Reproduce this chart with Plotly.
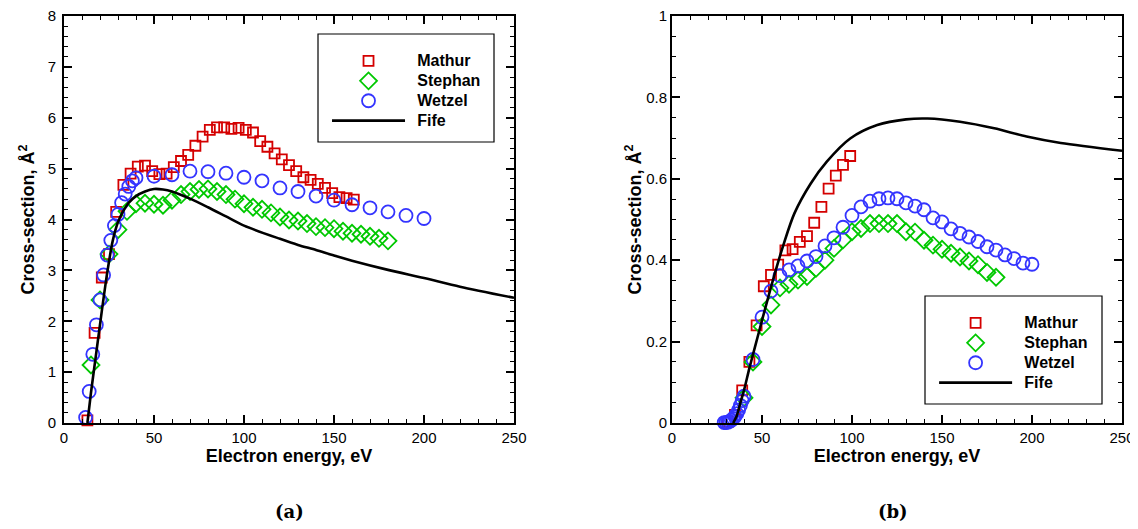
import plotly.graph_objects as go

# ---------------- data ----------------
# Panel (a)
mathur_a_x = [13, 17, 21, 25, 29, 33, 37, 41, 45, 49, 53, 57, 61, 65, 69, 73, 77, 81, 85,
              89, 93, 97, 101, 105, 109, 113, 117, 121, 125, 129, 133, 137, 141, 145, 149,
              153, 157, 161]
mathur_a_y = [0.05, 1.77, 2.86, 3.32, 4.15, 4.68, 4.9, 5.04, 5.06, 4.95, 4.89, 4.9, 5.03,
              5.15, 5.27, 5.45, 5.63, 5.76, 5.81, 5.81, 5.78, 5.8, 5.76, 5.71, 5.54, 5.43,
              5.3, 5.18, 5.07, 4.95, 4.83, 4.78, 4.7, 4.62, 4.52, 4.44, 4.42, 4.39]

stephan_a_x = [15, 20, 25, 30, 35, 40, 45, 50, 55, 60, 65, 70, 75, 80, 85, 90, 95, 100,
               105, 110, 115, 120, 125, 130, 135, 140, 145, 150, 155, 160, 165, 170, 175, 180]
stephan_a_y = [1.14, 2.42, 3.32, 3.8, 4.16, 4.31, 4.32, 4.3, 4.28, 4.38, 4.49, 4.55, 4.59,
               4.6, 4.55, 4.49, 4.4, 4.31, 4.24, 4.2, 4.13, 4.05, 3.99, 3.97, 3.92, 3.86,
               3.84, 3.82, 3.77, 3.73, 3.71, 3.67, 3.63, 3.58]

wetzel_a_x = [12, 14, 16, 18, 20, 22, 24, 26, 28, 30, 32, 34, 36, 38, 40, 50, 60, 70, 80,
              90, 100, 110, 120, 130, 140, 150, 160, 170, 180, 190, 200]
wetzel_a_y = [0.11, 0.62, 1.35, 1.93, 2.42, 2.91, 3.3, 3.59, 3.88, 4.1, 4.33, 4.5, 4.65,
              4.76, 4.82, 4.85, 4.88, 4.95, 4.94, 4.91, 4.83, 4.76, 4.62, 4.55, 4.46, 4.38,
              4.29, 4.23, 4.15, 4.08, 4.02]

fife_a_x = [13, 15, 18, 21, 24, 27, 30, 33, 36, 40, 45, 50, 55, 60, 70, 80, 90, 100, 120,
            130, 140, 150, 160, 180, 200, 220, 250]
fife_a_y = [0.0, 0.6, 1.4, 2.2, 2.95, 3.57, 3.95, 4.17, 4.33, 4.46, 4.55, 4.6, 4.59, 4.55,
            4.41, 4.24, 4.06, 3.88, 3.62, 3.5, 3.4, 3.29, 3.19, 3.01, 2.85, 2.68, 2.46]

# Panel (b)
mathur_b_x = [31, 35, 39, 43, 47, 51, 55, 59, 63, 67, 71, 75, 79, 83, 87, 91, 95, 99]
mathur_b_y = [0.003, 0.02, 0.08, 0.15, 0.24, 0.336, 0.364, 0.389, 0.424, 0.427, 0.445,
              0.459, 0.492, 0.531, 0.576, 0.608, 0.634, 0.656]

stephan_b_x = [40, 45, 50, 55, 60, 65, 70, 75, 80, 85, 90, 95, 100, 105, 110, 115, 120,
               125, 130, 135, 140, 145, 150, 155, 160, 165, 170, 175, 180]
stephan_b_y = [0.062, 0.15, 0.237, 0.29, 0.332, 0.341, 0.351, 0.36, 0.38, 0.4, 0.429, 0.45,
               0.47, 0.478, 0.49, 0.49, 0.49, 0.49, 0.47, 0.469, 0.449, 0.437, 0.427, 0.417,
               0.408, 0.398, 0.389, 0.37, 0.358]

wetzel_b_x = [29, 30, 31, 32, 33, 34, 35, 36, 37, 38, 39, 40, 45, 50, 55, 60, 65, 70, 75,
              80, 85, 90, 95, 100, 105, 110, 115, 120, 125, 130, 135, 140, 145, 150, 155,
              160, 165, 170, 175, 180, 185, 190, 195, 200]
wetzel_b_y = [0.001, 0.001, 0.002, 0.004, 0.007, 0.011, 0.016, 0.023, 0.032, 0.043, 0.055,
              0.066, 0.156, 0.26, 0.324, 0.362, 0.376, 0.386, 0.398, 0.409, 0.435, 0.455,
              0.481, 0.51, 0.531, 0.545, 0.551, 0.553, 0.551, 0.541, 0.533, 0.524, 0.504,
              0.494, 0.477, 0.466, 0.457, 0.446, 0.433, 0.425, 0.413, 0.404, 0.393, 0.39]

fife_b_x = [34, 36, 38, 40, 43, 46, 50, 56, 62, 68, 77, 86, 99, 114, 130, 142, 160, 179,
            197, 216, 250]
fife_b_y = [0.0, 0.018, 0.05, 0.08, 0.135, 0.185, 0.252, 0.35, 0.439, 0.515, 0.588, 0.642,
            0.699, 0.732, 0.746, 0.748, 0.74, 0.724, 0.704, 0.688, 0.669]

series_names = ["Mathur", "Stephan", "Wetzel", "Fife"]
x_title = "Electron energy, eV"
y_title = "Cross-section, Å<sup>2</sup>"
captions = ["(a)", "(b)"]

# ---------------- styling ----------------
RED = "#d40000"
GREEN = "#00c800"
BLUE = "#3434ff"
FONT = "Liberation Sans, Arial, Helvetica, sans-serif"

fig = go.Figure()


def legend_label(name):
    # larger visible text than the legend's base font (keeps rows compact)
    return "\u00a0\u00a0<span style='font-size:16px'><b>" + name + "</b></span>"


def add_panel(data, xa, ya, leg):
    (mx, my), (sx, sy), (wx, wy), (fx, fy) = data
    fig.add_trace(go.Scatter(x=mx, y=my, mode="markers", name=legend_label(series_names[0]),
                             xaxis=xa, yaxis=ya, legend=leg, cliponaxis=False,
                             marker=dict(symbol="square-open", size=10, color=RED,
                                         line=dict(width=1.8, color=RED))))
    fig.add_trace(go.Scatter(x=sx, y=sy, mode="markers", name=legend_label(series_names[1]),
                             xaxis=xa, yaxis=ya, legend=leg, cliponaxis=False,
                             marker=dict(symbol="diamond-open", size=13, color=GREEN,
                                         line=dict(width=1.8, color=GREEN))))
    fig.add_trace(go.Scatter(x=wx, y=wy, mode="markers", name=legend_label(series_names[2]),
                             xaxis=xa, yaxis=ya, legend=leg, cliponaxis=False,
                             marker=dict(symbol="circle-open", size=13, color=BLUE,
                                         line=dict(width=1.8, color=BLUE))))
    fig.add_trace(go.Scatter(x=fx, y=fy, mode="lines", name=legend_label(series_names[3]),
                             xaxis=xa, yaxis=ya, legend=leg,
                             line=dict(color="black", width=2.6, shape="spline",
                                       smoothing=0.8)))


add_panel([(mathur_a_x, mathur_a_y), (stephan_a_x, stephan_a_y),
           (wetzel_a_x, wetzel_a_y), (fife_a_x, fife_a_y)], "x", "y", "legend")
add_panel([(mathur_b_x, mathur_b_y), (stephan_b_x, stephan_b_y),
           (wetzel_b_x, wetzel_b_y), (fife_b_x, fife_b_y)], "x2", "y2", "legend2")

axis_common = dict(
    showgrid=False, zeroline=False, showline=True, linecolor="black", linewidth=2,
    mirror="allticks", ticks="inside", ticklen=8, tickwidth=2, tickcolor="black",
    tickfont=dict(family=FONT, size=15, color="black"),
    automargin=False, ticklabeloverflow="allow",
)

x_common = dict(axis_common, range=[0, 250], dtick=50, tick0=0,
                minor=dict(dtick=10, ticklen=4, tickwidth=1, tickcolor="black",
                           ticks="inside"),
                title=dict(text="<b>" + x_title + "</b>", standoff=0,
                           font=dict(family=FONT, size=18, color="black")))

LEGEND_FONT = dict(family=FONT, size=13, color="black")

fig.update_layout(
    width=1130, height=521,
    margin=dict(l=56, r=16, t=8, b=106),
    paper_bgcolor="white", plot_bgcolor="white",
    showlegend=True,
    xaxis=dict(x_common, domain=[0, 0.42533], anchor="y"),
    yaxis=dict(axis_common, domain=[0, 1], anchor="x", range=[0, 8], dtick=1, tick0=0,
               ticklabelstandoff=3,
               minor=dict(dtick=0.2, ticklen=4, tickwidth=1, tickcolor="black",
                          ticks="inside"),
               title=dict(text="<b>" + y_title + "</b>", standoff=8,
                          font=dict(family=FONT, size=18, color="black"))),
    xaxis2=dict(x_common, domain=[0.57467, 1], anchor="y2"),
    yaxis2=dict(axis_common, domain=[0, 1], anchor="x2", range=[0, 1], dtick=0.2, tick0=0,
                ticklabelstandoff=0,
                minor=dict(dtick=0.05, ticklen=4, tickwidth=1, tickcolor="black",
                           ticks="inside"),
                title=dict(text="<b>" + y_title + "</b>", standoff=0,
                           font=dict(family=FONT, size=18, color="black"))),
    legend=dict(x=0.2486, y=0.92629, xanchor="left", yanchor="top",
                bgcolor="rgba(0,0,0,0)", borderwidth=0, itemwidth=73,
                tracegroupgap=0, font=LEGEND_FONT),
    legend2=dict(x=0.8224, y=0.28256, xanchor="left", yanchor="top",
                 bgcolor="rgba(0,0,0,0)", borderwidth=0, itemwidth=73,
                 tracegroupgap=0, font=LEGEND_FONT),
    shapes=[
        dict(type="rect", xref="paper", yref="paper", x0=0.24008, x1=0.40643,
             y0=0.69042, y1=0.95577, line=dict(color="black", width=1.2),
             fillcolor="white", layer="below"),
        dict(type="rect", xref="paper", yref="paper", x0=0.81380, x1=0.98110,
             y0=0.04668, y1=0.31204, line=dict(color="black", width=1.2),
             fillcolor="white", layer="below"),
    ],
    annotations=[
        dict(text="<b>" + captions[0] + "</b>", xref="paper", yref="paper",
             x=0.2127, y=-0.21867, showarrow=False, xanchor="center", yanchor="middle",
             font=dict(family="DejaVu Serif, Liberation Serif, serif", size=18,
                       color="black")),
        dict(text="<b>" + captions[1] + "</b>", xref="paper", yref="paper",
             x=0.7836, y=-0.21867, showarrow=False, xanchor="center", yanchor="middle",
             font=dict(family="DejaVu Serif, Liberation Serif, serif", size=18,
                       color="black")),
    ],
)

fig.write_html("out.html")
